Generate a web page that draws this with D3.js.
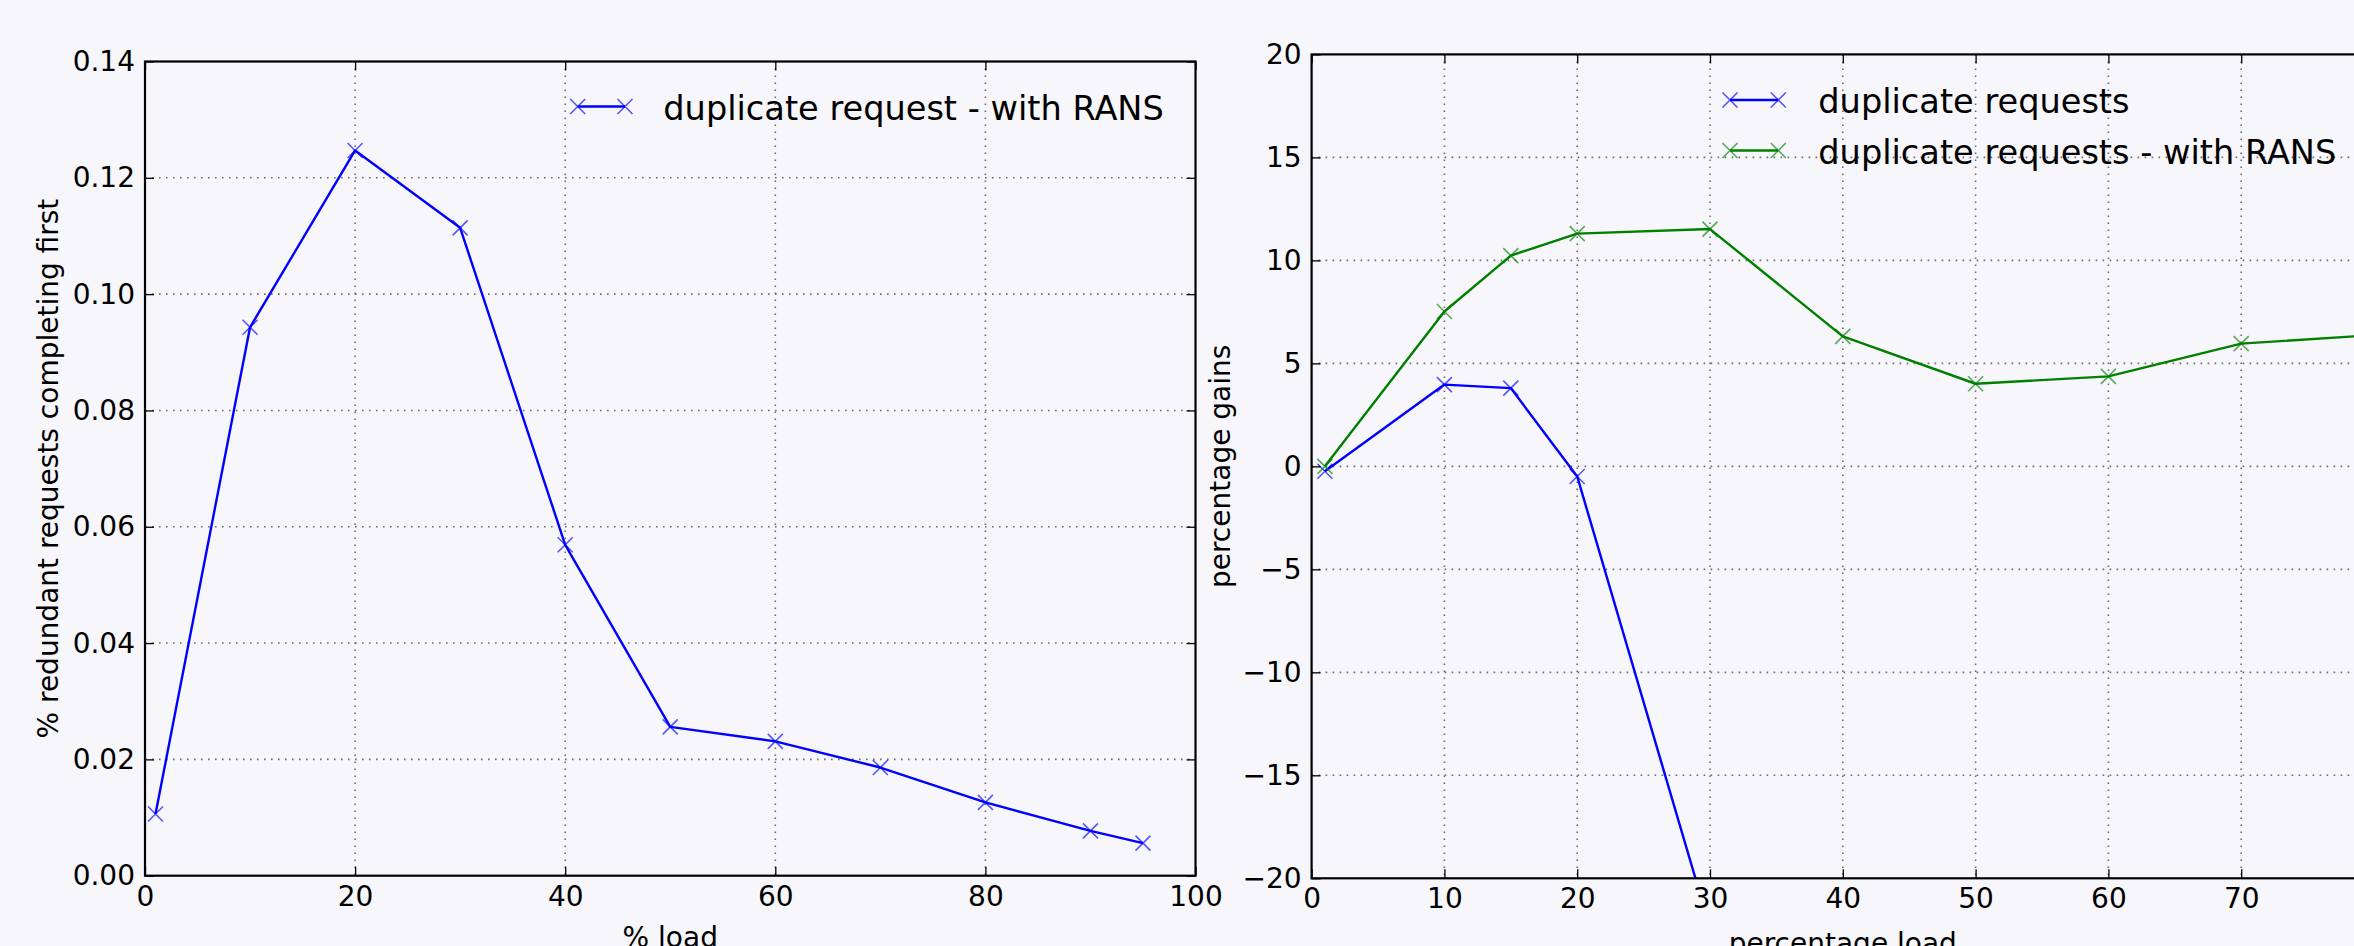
<!DOCTYPE html>
<html>
<head>
<meta charset="utf-8">
<script src="https://cdn.jsdelivr.net/npm/d3@7/dist/d3.min.js"></script>
<style>
  html, body { margin: 0; padding: 0; background: #f7f6fb; }
  svg { display: block; font-family: "DejaVu Sans", sans-serif; }
</style>
</head>
<body>
<svg id="chart" width="2354" height="946"></svg>
<script>
// ---------- data ----------
const loadLeft = [1, 10, 20, 30, 40, 50, 60, 70, 80, 90, 95];
const redundantFirst = [0.0106, 0.0943, 0.1247, 0.1114, 0.0569, 0.0256, 0.0231, 0.0186, 0.0126, 0.0077, 0.0056];

const loadDup = [1, 10, 15, 20, 30];
const gainsDup = [-0.24, 3.97, 3.80, -0.49, -22.4];

const loadRans = [1, 10, 15, 20, 30, 40, 50, 60, 70, 80];
const gainsRans = [0.0, 7.52, 10.23, 11.30, 11.52, 6.31, 4.01, 4.37, 5.96, 6.37];

const leftXTicks = [0, 20, 40, 60, 80, 100];
const leftYTicks = [0, 0.02, 0.04, 0.06, 0.08, 0.10, 0.12, 0.14];
const rightXTicks = [0, 10, 20, 30, 40, 50, 60, 70, 80];
const rightYTicks = [-20, -15, -10, -5, 0, 5, 10, 15, 20];

const leftLegend = ["duplicate request - with RANS"];
const rightLegend = ["duplicate requests", "duplicate requests - with RANS"];

const BLUE = "#0000ff", GREEN = "#008000";
const TICK_FS = 28, LEGEND_FS = 33.6;

const svg = d3.select("#chart");

function panel(opts) {
  const { x0, x1, y0, y1, xDomain, yDomain, xTicks, yTicks, xFmt, yFmt, xLabel, yLabel, yLabelX, xLabelY, series, legend, id } = opts;
  const x = d3.scaleLinear().domain(xDomain).range([x0, x1]);
  const y = d3.scaleLinear().domain(yDomain).range([y1, y0]);
  const g = svg.append("g");

  g.append("clipPath").attr("id", id).append("rect")
    .attr("x", x0).attr("y", y0).attr("width", x1 - x0).attr("height", y1 - y0);

  // grid
  const grid = g.append("g").attr("stroke", "#555").attr("stroke-width", 1.6)
    .attr("stroke-dasharray", "1.6,5.4").attr("opacity", 0.85);
  xTicks.forEach(t => { if (x(t) > x0 + 1 && x(t) < x1 - 1)
    grid.append("line").attr("x1", x(t)).attr("x2", x(t)).attr("y1", y0).attr("y2", y1); });
  yTicks.forEach(t => { if (y(t) > y0 + 1 && y(t) < y1 - 1)
    grid.append("line").attr("y1", y(t)).attr("y2", y(t)).attr("x1", x0).attr("x2", x1); });

  // series
  const plot = g.append("g").attr("clip-path", `url(#${id})`);
  series.forEach(s => {
    const pts = s.xs.map((v, i) => [v, s.ys[i]]);
    plot.append("path").datum(pts)
      .attr("d", d3.line().x(d => x(d[0])).y(d => y(d[1])))
      .attr("fill", "none").attr("stroke", s.color).attr("stroke-width", 2.4)
      .attr("stroke-linejoin", "round");
    plot.selectAll(null).data(pts).enter().append("path")
      .attr("d", d => { const cx = x(d[0]), cy = y(d[1]), r = 7.5;
        return `M${cx - r},${cy - r}L${cx + r},${cy + r}M${cx - r},${cy + r}L${cx + r},${cy - r}`; })
      .attr("stroke", s.color).attr("stroke-width", 1.6).attr("opacity", 0.65).attr("fill", "none");
  });

  // axes (inward ticks on all four sides)
  const tickStyle = sel => {
    sel.select(".domain").remove();
    sel.selectAll(".tick line").attr("stroke", "#000").attr("stroke-width", 1.3);
    sel.selectAll(".tick text").attr("fill", "#000").attr("font-size", TICK_FS)
      .attr("font-family", "DejaVu Sans");
  };
  g.append("g").attr("transform", `translate(0,${y1})`)
    .call(d3.axisBottom(x).tickValues(xTicks).tickFormat(xFmt).tickSizeInner(-9).tickSizeOuter(0).tickPadding(10))
    .call(tickStyle);
  g.append("g").attr("transform", `translate(0,${y0})`)
    .call(d3.axisTop(x).tickValues(xTicks).tickFormat("").tickSizeInner(-9).tickSizeOuter(0))
    .call(tickStyle);
  g.append("g").attr("transform", `translate(${x0},0)`)
    .call(d3.axisLeft(y).tickValues(yTicks).tickFormat(yFmt).tickSizeInner(-9).tickSizeOuter(0).tickPadding(10))
    .call(tickStyle);
  g.append("g").attr("transform", `translate(${x1},0)`)
    .call(d3.axisRight(y).tickValues(yTicks).tickFormat("").tickSizeInner(-9).tickSizeOuter(0))
    .call(tickStyle);

  // spines
  g.append("rect").attr("x", x0).attr("y", y0).attr("width", x1 - x0).attr("height", y1 - y0)
    .attr("fill", "none").attr("stroke", "#000").attr("stroke-width", 2.2);

  // labels
  g.append("text").attr("x", (x0 + x1) / 2).attr("y", xLabelY).attr("text-anchor", "middle")
    .attr("font-size", TICK_FS).attr("fill", "#000").text(xLabel);
  g.append("text").attr("transform", `translate(${yLabelX},${(y0 + y1) / 2}) rotate(-90)`)
    .attr("text-anchor", "middle").attr("font-size", TICK_FS).attr("fill", "#000").text(yLabel);

  // legend (no frame)
  legend.items.forEach((item, i) => {
    const ly = legend.y + i * legend.dy;
    const lg = g.append("g");
    lg.append("line").attr("x1", legend.hx0).attr("x2", legend.hx1).attr("y1", ly).attr("y2", ly)
      .attr("stroke", item.color).attr("stroke-width", 2.4);
    [legend.hx0, legend.hx1].forEach(cx => {
      const r = 7.5;
      lg.append("path").attr("d", `M${cx - r},${ly - r}L${cx + r},${ly + r}M${cx - r},${ly + r}L${cx + r},${ly - r}`)
        .attr("stroke", item.color).attr("stroke-width", 1.6).attr("opacity", 0.65);
    });
    lg.append("text").attr("x", legend.tx).attr("y", ly + 13).attr("font-size", LEGEND_FS)
      .attr("fill", "#000").text(item.label);
  });
}

const fmtLeftY = d3.format(".2f");
const fmtInt = d => (d < 0 ? "\u2212" + Math.abs(d) : String(d));

panel({
  id: "clipL", x0: 145, x1: 1195.5, y0: 61.5, y1: 875.7,
  xDomain: [0, 100], yDomain: [0, 0.14], xTicks: leftXTicks, yTicks: leftYTicks,
  xFmt: d => String(d), yFmt: fmtLeftY,
  xLabel: "% load", yLabel: "% redundant requests completing first",
  yLabelX: 58, xLabelY: 947,
  series: [{ xs: loadLeft, ys: redundantFirst, color: BLUE }],
  legend: { y: 106.5, dy: 50, hx0: 577.7, hx1: 625, tx: 663.3,
    items: [{ label: leftLegend[0], color: BLUE }] }
});

panel({
  id: "clipR", x0: 1311.6, x1: 2374, y0: 54.4, y1: 878.3,
  xDomain: [0, 80], yDomain: [-20, 20], xTicks: rightXTicks, yTicks: rightYTicks,
  xFmt: d => String(d), yFmt: fmtInt,
  xLabel: "percentage load", yLabel: "percentage gains",
  yLabelX: 1230, xLabelY: 953,
  series: [{ xs: loadDup, ys: gainsDup, color: BLUE }, { xs: loadRans, ys: gainsRans, color: GREEN }],
  legend: { y: 100, dy: 50.5, hx0: 1730, hx1: 1778.3, tx: 1818.3,
    items: [{ label: rightLegend[0], color: BLUE }, { label: rightLegend[1], color: GREEN }] }
});
</script>
</body>
</html>
